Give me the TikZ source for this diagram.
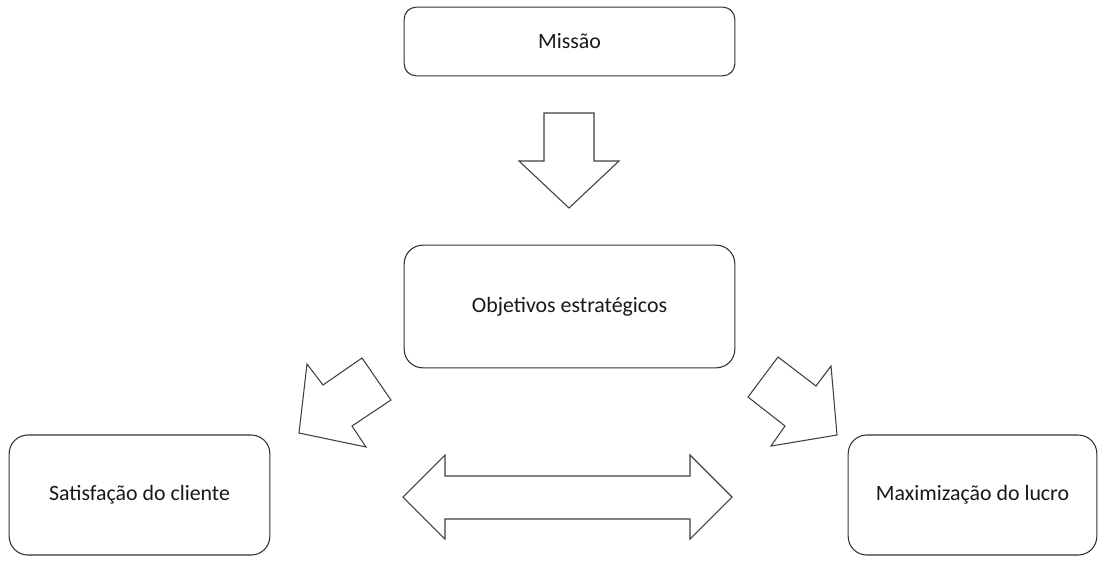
\documentclass[tikz,border=0pt]{standalone}
\usepackage{fontspec}
\setmainfont{Carlito}
\usetikzlibrary{positioning}

\tikzset{
  box/.style={draw=black!80, line width=0.8pt, rounded corners=14pt, fill=white,
              font=\fontsize{16.4}{19}\selectfont, text=black!90},
  blockarrow/.style={draw=black!75, line width=0.8pt, fill=white, line join=miter}
}

\begin{document}
\begin{tikzpicture}[x=0.75pt, y=-0.75pt]
        \useasboundingbox (0,0) rectangle (1105,561);
        \node[box, rounded corners=9pt, minimum width=248pt, minimum height=51.5pt] (missao) at (569.5,41.5) {Missão};
        \node[box, minimum width=248pt, minimum height=92pt] (objetivos) at (569.5,306.5) {Objetivos estratégicos};
        \node[box, minimum width=195.5pt, minimum height=90pt] (satisfacao) at (139.5,495) {Satisfação do cliente};
        \node[box, minimum width=186.5pt, minimum height=90pt] (lucro) at (972.5,495) {Maximização do lucro};

        % seta para baixo
        \draw[blockarrow] (544,113) -- (594,113) -- (594,161) -- (619,161) -- (569,208)
              -- (519,161) -- (544,161) -- cycle;
        % setas diagonais
        \draw[blockarrow] (362,358) -- (391,400) -- (352,426) -- (366,447) -- (299,433)
              -- (307,364) -- (323,385) -- cycle;
        \draw[blockarrow] (778,357) -- (816,386) -- (831,366) -- (837,435) -- (771,446)
              -- (785,426) -- (748,397) -- cycle;
        % seta dupla
        \draw[blockarrow] (403,497) -- (445,455) -- (445,476) -- (690,476) -- (690,455)
              -- (732,497) -- (690,539) -- (690,519) -- (445,519) -- (445,539) -- cycle;
\end{tikzpicture}
\end{document}
